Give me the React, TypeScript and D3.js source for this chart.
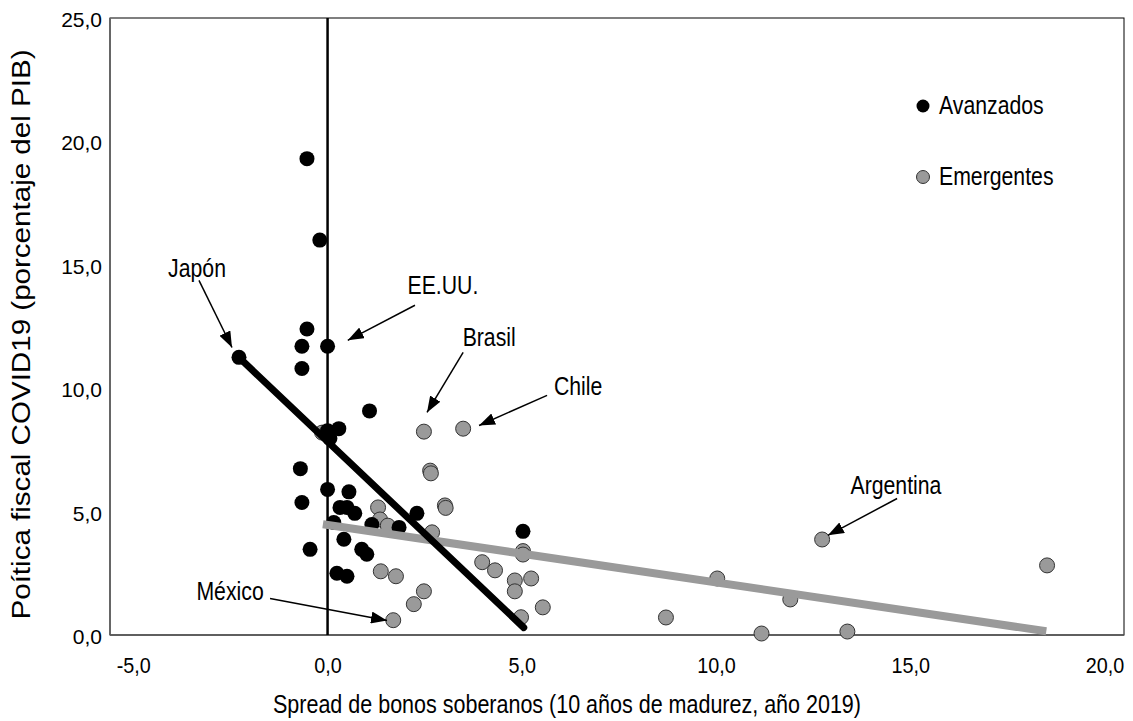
import React, { useEffect, useRef } from "react";
import * as d3 from "d3";

// Avanzados: [spread, política fiscal]
const avanzados: [number, number][] = [
  [-0.53, 19.3], [-0.2, 16.0], [-0.53, 12.4], [-0.66, 11.7], [0.0, 11.7],
  [-0.66, 10.8], [-2.28, 11.25], [1.08, 9.08], [0.0, 8.28], [0.29, 8.36],
  [0.06, 7.96], [-0.7, 6.74], [0.0, 5.9], [0.55, 5.8], [-0.66, 5.37],
  [0.32, 5.17], [0.5, 5.17], [0.7, 4.93], [2.3, 4.93], [0.16, 4.56],
  [1.14, 4.48], [1.84, 4.36], [5.03, 4.2], [-0.45, 3.47], [0.42, 3.88],
  [0.88, 3.47], [1.01, 3.27], [0.24, 2.5], [0.5, 2.38]
];

const emergentes: [number, number][] = [
  [-0.14, 8.2], [2.48, 8.24], [3.49, 8.36], [2.64, 6.66], [2.66, 6.55],
  [3.02, 5.25], [3.04, 5.15], [1.3, 5.17], [1.35, 4.68], [1.55, 4.43],
  [2.69, 4.16], [5.03, 3.4], [5.03, 3.26], [3.98, 2.95], [4.31, 2.62],
  [4.82, 2.21], [5.24, 2.29], [4.82, 1.77], [5.54, 1.12], [4.98, 0.72],
  [1.37, 2.58], [1.76, 2.38], [2.48, 1.77], [2.22, 1.25], [1.69, 0.6],
  [12.73, 3.87], [18.52, 2.82], [10.03, 2.29], [11.91, 1.44], [8.71, 0.71],
  [11.17, 0.06], [13.38, 0.14]
];

// lineas de tendencia (extremos)
const tendAvanzados: [number, number][] = [[-2.25, 11.2], [5.05, 0.3]];
const tendEmergentes: [number, number][] = [[-0.12, 4.49], [18.5, 0.15]];

const xTicks = [-5, 0, 5, 10, 15, 20];
const yTicks = [0, 5, 10, 15, 20, 25];

// etiquetas: texto (x, y base), flecha desde -> hasta
const notas = [
  { label: "Japón", tx: -3.36, ty: 14.5, x1: -3.31, y1: 14.37, x2: -2.46, y2: 11.65 },
  { label: "EE.UU.", tx: 2.97, ty: 13.8, x1: 2.25, y1: 13.36, x2: 0.52, y2: 11.94 },
  { label: "Brasil", tx: 4.16, ty: 11.7, x1: 3.49, y1: 11.45, x2: 2.56, y2: 9.02 },
  { label: "Chile", tx: 6.45, ty: 9.72, x1: 5.65, y1: 9.71, x2: 3.9, y2: 8.49 },
  { label: "Argentina", tx: 14.63, ty: 5.7, x1: 14.66, y1: 5.53, x2: 12.88, y2: 4.04 },
  { label: "México", tx: -2.51, ty: 1.4, x1: -1.48, y1: 1.48, x2: 1.53, y2: 0.59 }
];

const FONT = "'Liberation Sans', Arial, sans-serif";
const GRIS = "#9a9a9a";

const fmt = (v: number) => d3.format(".1f")(v).replace(".", ",").replace("\u2212", "-");

export default function App() {
  const ref = useRef<SVGSVGElement>(null);

  useEffect(() => {
    const width = 1133;
    const height = 721;
    const left = 110, right = 1124, top = 18, bottom = 635;

    const svg = d3.select(ref.current);
    svg.selectAll("*").remove();
    svg.attr("width", width).attr("height", height);

    const x = d3.scaleLinear().domain([-5.6, 20.5]).range([left, right]);
    const y = d3.scaleLinear().domain([0, 25]).range([bottom, top]);

    // texto estrecho (tipo Arial Narrow)
    const narrow = (g: any, px: number, py: number, t: string, size = 25, anchor = "start") =>
      g.append("text")
        .attr("transform", `translate(${px},${py}) scale(0.85,1)`)
        .attr("text-anchor", anchor)
        .attr("font-family", FONT).attr("font-size", size)
        .attr("fill", "#000")
        .text(t);

    const defs = svg.append("defs");
    defs.append("marker")
      .attr("id", "flecha")
      .attr("viewBox", "0 0 16 12")
      .attr("refX", 16).attr("refY", 6)
      .attr("markerWidth", 16).attr("markerHeight", 12)
      .attr("markerUnits", "userSpaceOnUse")
      .attr("orient", "auto")
      .append("path")
      .attr("d", "M0,0 L16,6 L0,12 z")
      .attr("fill", "#000");

    // marco
    svg.append("rect")
      .attr("x", left).attr("y", top)
      .attr("width", right - left).attr("height", bottom - top)
      .attr("fill", "#fff").attr("stroke", "#000").attr("stroke-width", 1);
    svg.append("line")
      .attr("x1", left).attr("x2", left).attr("y1", top).attr("y2", bottom)
      .attr("stroke", "#666").attr("stroke-width", 2);
    svg.append("line")
      .attr("x1", left).attr("x2", right).attr("y1", bottom).attr("y2", bottom)
      .attr("stroke", "#555").attr("stroke-width", 1.5);

    // ejes
    const gx = svg.append("g")
      .attr("transform", `translate(0,${bottom})`)
      .call(d3.axisBottom(x).tickValues(xTicks).tickSize(0).tickPadding(22).tickFormat(d => fmt(+d)));
    const gy = svg.append("g")
      .attr("transform", `translate(${left - 8},0)`)
      .call(d3.axisLeft(y).tickValues(yTicks).tickSize(0).tickPadding(0).tickFormat(d => fmt(+d)));
    [gx, gy].forEach(g => g.select(".domain").remove());
    gx.selectAll("text")
      .attr("font-family", FONT).attr("font-size", 22).attr("fill", "#000")
      .attr("transform", "scale(0.9,1)");
    gy.selectAll("text")
      .attr("font-family", FONT).attr("font-size", 21).attr("fill", "#000")
      .attr("dy", "0.4em");

    // linea vertical en cero
    svg.append("line")
      .attr("x1", x(0)).attr("x2", x(0)).attr("y1", y(0)).attr("y2", y(25))
      .attr("stroke", "#000").attr("stroke-width", 2.5);

    const pts = svg.append("g");
    pts.selectAll("circle.em").data(emergentes).enter().append("circle")
      .attr("class", "em")
      .attr("cx", d => x(d[0])).attr("cy", d => y(d[1])).attr("r", 7.5)
      .attr("fill", GRIS).attr("stroke", "#333").attr("stroke-width", 1);
    pts.selectAll("circle.av").data(avanzados).enter().append("circle")
      .attr("class", "av")
      .attr("cx", d => x(d[0])).attr("cy", d => y(d[1])).attr("r", 7.5)
      .attr("fill", "#000");

    const linea = d3.line<[number, number]>().x(d => x(d[0])).y(d => y(d[1]));
    svg.append("path").attr("d", linea(tendEmergentes))
      .attr("fill", "none").attr("stroke", GRIS).attr("stroke-width", 8);
    svg.append("path").attr("d", linea(tendAvanzados))
      .attr("fill", "none").attr("stroke", "#000").attr("stroke-width", 7)
      .attr("stroke-linecap", "round");

    // anotaciones
    const an = svg.append("g");
    notas.forEach(n => {
      an.append("line")
        .attr("x1", x(n.x1)).attr("y1", y(n.y1))
        .attr("x2", x(n.x2)).attr("y2", y(n.y2))
        .attr("stroke", "#000").attr("stroke-width", 1.5)
        .attr("marker-end", "url(#flecha)");
      narrow(an, x(n.tx), y(n.ty), n.label, 25, "middle");
    });

    // leyenda
    const ley = svg.append("g");
    [["Avanzados", "#000", 106], ["Emergentes", GRIS, 177]].forEach(([t, c, yy]) => {
      ley.append("circle").attr("cx", 923).attr("cy", yy as number).attr("r", 6.5)
        .attr("fill", c as string).attr("stroke", "#333").attr("stroke-width", c === "#000" ? 0 : 1);
      narrow(ley, 939, (yy as number) + 8, t as string, 25);
    });

    // titulos de ejes
    svg.append("text")
      .attr("x", 567).attr("y", 713)
      .attr("text-anchor", "middle")
      .attr("font-family", FONT).attr("font-size", 25)
      .attr("textLength", 588).attr("lengthAdjust", "spacingAndGlyphs")
      .text("Spread de bonos soberanos (10 años de madurez, año 2019)");
    svg.append("text")
      .attr("transform", `translate(30,${(top + bottom) / 2 + 8}) rotate(-90)`)
      .attr("text-anchor", "middle")
      .attr("font-family", FONT).attr("font-size", 26)
      .attr("textLength", 570).attr("lengthAdjust", "spacingAndGlyphs")
      .text("Poítica fiscal COVID19 (porcentaje del PIB)");
  }, []);

  return (
    <svg ref={ref} style={{ position: "absolute", left: 0, top: 0, background: "#fff" }} />
  );
}
